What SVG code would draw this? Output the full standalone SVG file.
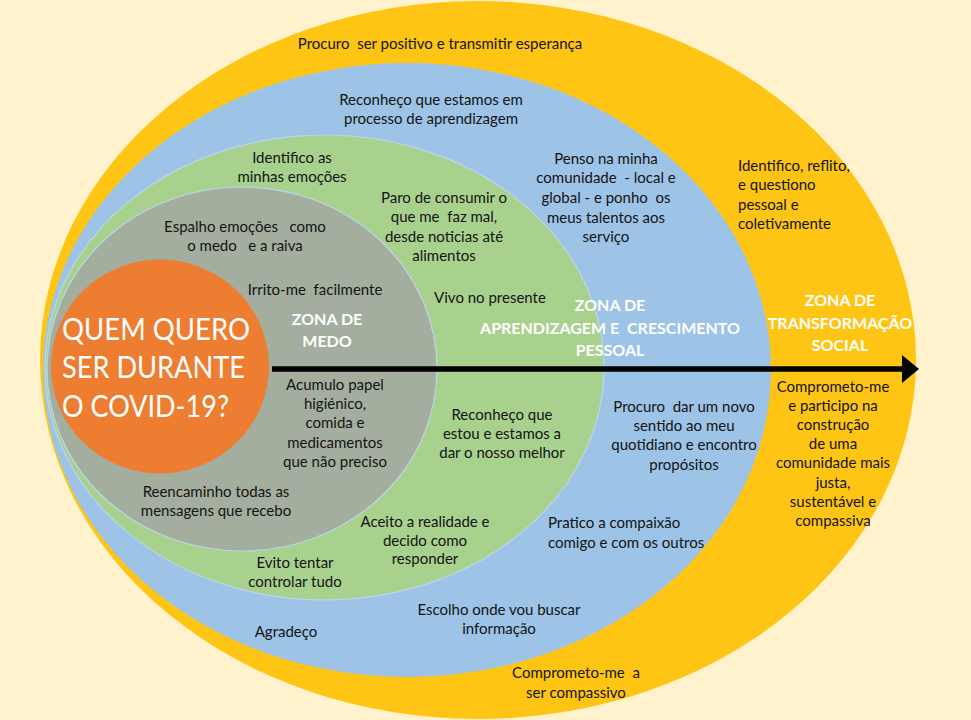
<svg xmlns="http://www.w3.org/2000/svg" width="971" height="720" viewBox="0 0 971 720">
<style>
.t{font-family:Lato,"Liberation Sans","Noto Sans",sans-serif;font-size:15px;fill:#141414;text-anchor:middle;white-space:pre}
.l{text-anchor:start}
.z{font-weight:bold;font-size:16px;fill:#ffffff}
.big{font-size:30px;fill:#ffffff;text-anchor:start}
.edge{stroke:#bcd5ec;stroke-width:1.2}
</style>
<defs>
<marker id="head" markerUnits="userSpaceOnUse" markerWidth="18" markerHeight="28" refX="0" refY="14" orient="auto">
<path d="M0,0 L17,14 L0,28 Z" fill="#000"/>
</marker>
</defs>
<rect width="971" height="720" fill="#FFF2CC"/>
<g id="zone-transformacao"><ellipse cx="478" cy="360" rx="438" ry="359" fill="#FFC514"/></g>
<g id="zone-aprendizagem"><ellipse cx="407" cy="370" rx="364" ry="307" fill="#9DC3E6"/></g>
<g id="zone-crescimento"><ellipse cx="324.5" cy="367.5" rx="279.5" ry="232.5" fill="#A9D18E" class="edge"/></g>
<g id="zone-medo"><ellipse cx="242" cy="369" rx="195" ry="182" fill="#A4AE9E" class="edge"/></g>
<g id="centro"><ellipse cx="160" cy="366.5" rx="109" ry="107" fill="#ED7D31"/>
<text class="t big" x="62" y="340" textLength="188" lengthAdjust="spacingAndGlyphs">QUEM QUERO</text>
<text class="t big" x="62" y="378" textLength="183" lengthAdjust="spacingAndGlyphs">SER DURANTE</text>
<text class="t big" x="62" y="417" textLength="167" lengthAdjust="spacingAndGlyphs">O COVID-19?</text></g>
<g id="connectors"><line x1="272" y1="369" x2="902" y2="369" stroke="#000" stroke-width="5.5" marker-end="url(#head)"/></g>
<g id="labels">
<text class="t z"><tspan x="327" y="324.5">ZONA DE</tspan><tspan x="327" y="347">MEDO</tspan></text>
<text class="t z"><tspan x="610" y="310.5">ZONA DE</tspan><tspan x="610" y="333.5">APRENDIZAGEM E  CRESCIMENTO</tspan><tspan x="610" y="355.5">PESSOAL</tspan></text>
<text class="t z"><tspan x="840" y="305.5">ZONA DE</tspan><tspan x="840" y="328.5">TRANSFORMAÇÃO</tspan><tspan x="840" y="350.5">SOCIAL</tspan></text>
</g>
<g id="t1"><text class="t" x="440" y="49">Procuro  ser positivo e transmitir esperança</text></g>
<g id="t2"><text class="t"><tspan x="431" y="105">Reconheço que estamos em</tspan><tspan x="431" y="124">processo de aprendizagem</tspan></text></g>
<g id="t3"><text class="t"><tspan x="292" y="163">Identifico as</tspan><tspan x="292" y="182">minhas emoções</tspan></text></g>
<g id="t4"><text class="t"><tspan x="606" y="164">Penso na minha</tspan><tspan x="606" y="183">comunidade  - local e</tspan><tspan x="606" y="203">global - e ponho  os</tspan><tspan x="606" y="223">meus talentos aos</tspan><tspan x="606" y="242">serviço</tspan></text></g>
<g id="t5"><text class="t l"><tspan x="738" y="171">Identifico, reflito,</tspan><tspan x="738" y="190">e questiono</tspan><tspan x="738" y="210">pessoal e</tspan><tspan x="738" y="229">coletivamente</tspan></text></g>
<g id="t6"><text class="t"><tspan x="444" y="203">Paro de consumir o</tspan><tspan x="444" y="222">que me  faz mal,</tspan><tspan x="444" y="242">desde noticias até</tspan><tspan x="444" y="261">alimentos</tspan></text></g>
<g id="t7"><text class="t"><tspan x="245" y="232">Espalho emoções   como</tspan><tspan x="245" y="251">o medo   e a raiva</tspan></text></g>
<g id="t8"><text class="t" x="315" y="295">Irrito-me  facilmente</text></g>
<g id="t9"><text class="t" x="490" y="303">Vivo no presente</text></g>
<g id="t10"><text class="t"><tspan x="335" y="390">Acumulo papel</tspan><tspan x="335" y="409">higiénico,</tspan><tspan x="335" y="428">comida e</tspan><tspan x="335" y="448">medicamentos</tspan><tspan x="335" y="467">que não preciso</tspan></text></g>
<g id="t11"><text class="t"><tspan x="502" y="420">Reconheço que</tspan><tspan x="502" y="439">estou e estamos a</tspan><tspan x="502" y="458">dar o nosso melhor</tspan></text></g>
<g id="t12"><text class="t"><tspan x="684" y="412">Procuro  dar um novo</tspan><tspan x="684" y="431">sentido ao meu</tspan><tspan x="684" y="450">quotidiano e encontro</tspan><tspan x="684" y="470">propósitos</tspan></text></g>
<g id="t13"><text class="t"><tspan x="833" y="392">Comprometo-me</tspan><tspan x="833" y="411">e participo na</tspan><tspan x="833" y="430">construção</tspan><tspan x="833" y="449">de uma</tspan><tspan x="833" y="468">comunidade mais</tspan><tspan x="833" y="488">justa,</tspan><tspan x="833" y="507">sustentável e</tspan><tspan x="833" y="526">compassiva</tspan></text></g>
<g id="t14"><text class="t"><tspan x="216" y="497">Reencaminho todas as</tspan><tspan x="216" y="516">mensagens que recebo</tspan></text></g>
<g id="t15"><text class="t"><tspan x="425" y="527">Aceito a realidade e</tspan><tspan x="425" y="546">decido como</tspan><tspan x="425" y="564">responder</tspan></text></g>
<g id="t16"><text class="t l"><tspan x="548" y="528">Pratico a compaixão</tspan><tspan x="548" y="548">comigo e com os outros</tspan></text></g>
<g id="t17"><text class="t"><tspan x="295" y="568">Evito tentar</tspan><tspan x="295" y="587">controlar tudo</tspan></text></g>
<g id="t18"><text class="t"><tspan x="499" y="615">Escolho onde vou buscar</tspan><tspan x="499" y="634">informação</tspan></text></g>
<g id="t19"><text class="t" x="286" y="637">Agradeço</text></g>
<g id="t20"><text class="t"><tspan x="576" y="678">Comprometo-me  a</tspan><tspan x="576" y="698">ser compassivo</tspan></text></g>
</svg>
